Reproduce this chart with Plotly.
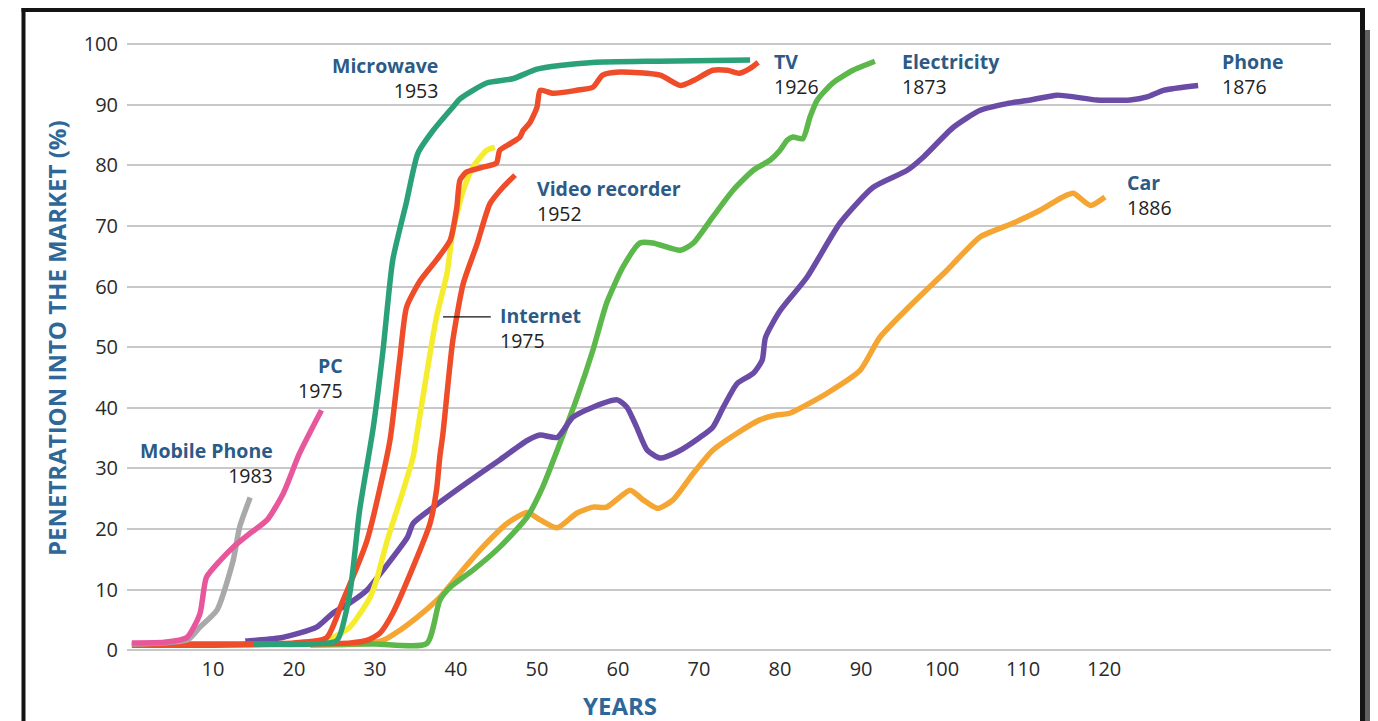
import plotly.graph_objects as go

# ---------------- data ----------------
mobile_x = [0, 4, 7, 8.4, 10.5, 12.5, 13.3, 14.6]
mobile_y = [1.0, 1.2, 1.8, 3.8, 6.6, 14.8, 20.3, 25.2]

pc_x = [0, 4, 6.8, 8.4, 9.2, 10.9, 12.5, 14.6, 16.7, 18.7, 20.7, 23.4]
pc_y = [1.2, 1.3, 2.1, 6.0, 12.0, 14.8, 17.0, 19.3, 21.5, 25.9, 32.5, 39.6]

tv_x = [0, 10, 20, 24, 26, 29, 31, 31.9, 33.1, 33.9, 35.6, 37.6, 39.3, 40.1, 40.5,
        41.3, 43.3, 45, 45.4, 46.7, 47.9, 48.3, 49.1, 50, 50.4, 52, 54.9, 56.9,
        58.1, 60.2, 65.2, 67.7, 69.3, 71.7, 73.5, 75, 76.3, 77.3]
tv_y = [1.0, 1.0, 1.2, 2.0, 8.0, 18.0, 29.0, 35.0, 48.4, 56.6, 61.0, 64.4, 67.7, 73.0,
        77.6, 78.9, 79.7, 80.4, 82.5, 83.6, 84.7, 85.8, 87.0, 89.6, 92.4, 91.9, 92.4,
        92.9, 94.9, 95.4, 94.9, 93.2, 94.0, 95.7, 95.7, 95.2, 96.0, 97.0]

vcr_x = [0, 10, 20, 27, 29, 30.6, 32.2, 34.7, 36.8, 37.6, 38, 38.4, 39.6, 40.9, 42.6,
         44.2, 45.8, 47.3]
vcr_y = [0.8, 0.8, 1.0, 1.2, 1.6, 2.8, 6.1, 13.7, 20.9, 26.4, 31.8, 35.8, 51.0, 60.5,
         67.0, 73.7, 76.4, 78.4]

microwave_x = [15, 22, 25.3, 26.9, 28.1, 29.8, 31, 32.2, 33.9, 35.3, 37.2, 39.6, 40.5,
               43.8, 47, 50, 52.8, 56.9, 65, 76.3]
microwave_y = [1.0, 1.0, 1.6, 9.4, 23.0, 36.8, 49.5, 64.4, 74.0, 82.0, 85.8, 89.6, 91.0,
               93.6, 94.3, 95.9, 96.5, 97.0, 97.2, 97.4]

internet_x = [15, 22, 24.8, 26.9, 29.4, 30.2, 31.5, 33.5, 34.7, 35.2, 36.4, 37.6, 38.9,
              39.6, 40.9, 42.1, 43.8, 44.8]
internet_y = [1.0, 1.2, 2.1, 3.8, 8.7, 11.6, 18.0, 26.4, 31.8, 35.8, 45.7, 55.0, 62.2,
              69.0, 75.9, 79.7, 82.5, 83.0]

electricity_x = [20, 30, 36.4, 38, 39.3, 42.1, 45.4, 48.8, 50.7, 52.5, 54.9, 56.9, 58.6,
                 60.6, 62.7, 64.3, 67.7, 69.3, 71.7, 74.2, 76.7, 78.8, 80, 80.9, 81.6,
                 82.8, 83.7, 84.6, 86.5, 89, 91.7]
electricity_y = [1.0, 1.0, 1.1, 8.2, 10.4, 13.2, 17.0, 22.0, 26.9, 33.0, 41.5, 49.5,
                 57.3, 63.2, 67.2, 67.2, 66.0, 67.2, 71.5, 75.9, 79.2, 80.9, 82.5, 84.2,
                 84.7, 84.4, 88.0, 90.8, 93.6, 95.7, 97.2]

phone_x = [14, 15, 18.6, 22.8, 24.8, 26.9, 29, 31, 34, 34.7, 37.2, 41.3, 45.4, 48.8,
           50.4, 52.5, 54.4, 56.9, 59.9, 61.1, 62.3, 63.6, 65.2, 67.3, 70.1, 71.7, 73,
           74.7, 76.7, 77.8, 78.2, 80, 83.3, 87.4, 91.5, 95.7, 97.7, 101.4, 104.7, 108,
           110.9, 114.2, 119.1, 123.2, 125.3, 127.3, 131.6]
phone_y = [1.5, 1.6, 2.1, 3.8, 6.1, 7.8, 9.9, 13.2, 18.6, 20.9, 23.6, 27.6, 31.4, 34.6,
           35.5, 35.1, 38.4, 40.1, 41.3, 40.1, 36.8, 33.0, 31.7, 32.7, 35.1, 36.8, 40.1,
           44.0, 45.7, 47.9, 51.6, 56.0, 61.5, 70.5, 76.4, 79.2, 81.4, 86.3, 89.1, 90.2,
           90.8, 91.6, 90.8, 90.8, 91.3, 92.4, 93.2]

car_x = [22, 28, 31, 33.1, 35.2, 38, 40.5, 43.3, 46.3, 48.8, 50.4, 52.5, 54.9, 56.9,
         58.6, 61.5, 63.1, 64.9, 66.8, 69.3, 71.7, 74.7, 77.5, 79.6, 81.2, 85.8, 89.9,
         92.3, 96.4, 100.6, 104.7, 108.8, 112.1, 114.9, 116.2, 118.3, 120.1]
car_y = [0.8, 1.0, 1.6, 3.3, 5.4, 8.7, 12.7, 17.0, 20.9, 22.7, 21.5, 20.2, 22.6, 23.6,
         23.6, 26.4, 24.8, 23.4, 24.8, 29.2, 33.0, 35.8, 38.0, 38.8, 39.1, 42.4, 46.2,
         51.6, 57.3, 62.7, 68.2, 70.5, 72.6, 74.8, 75.4, 73.4, 74.8]

x_ticks = [10, 20, 30, 40, 50, 60, 70, 80, 90, 100, 110, 120]
y_ticks = [0, 10, 20, 30, 40, 50, 60, 70, 80, 90, 100]

# name, x-data, y-data, colour (drawing order)
series = [
    ("Car", car_x, car_y, "#f5a532"),
    ("Electricity", electricity_x, electricity_y, "#5cb84a"),
    ("Phone", phone_x, phone_y, "#6a4ca6"),
    ("Internet", internet_x, internet_y, "#f6ec2e"),
    ("Video recorder", vcr_x, vcr_y, "#ef4c2a"),
    ("TV", tv_x, tv_y, "#ef4c2a"),
    ("Microwave", microwave_x, microwave_y, "#2ba178"),
    ("Mobile Phone", mobile_x, mobile_y, "#a9a9a9"),
    ("PC", pc_x, pc_y, "#e8569b"),
]

# label placement: (name, year, x, y centre of the two-line block, anchor)
labels = [
    ("Microwave", "1953", 38.0, 94.45, "right"),
    ("TV", "1926", 79.0, 95.15, "left"),
    ("Electricity", "1873", 94.8, 95.05, "left"),
    ("Phone", "1876", 134.3, 95.05, "left"),
    ("Car", "1886", 122.6, 75.15, "left"),
    ("Video recorder", "1952", 49.8, 74.15, "left"),
    ("Internet", "1975", 45.2, 53.15, "left"),
    ("PC", "1975", 26.3, 44.85, "right"),
    ("Mobile Phone", "1983", 17.65, 30.95, "right"),
]

FONT = "Open Sans"
LABEL_BLUE = "#2b5b86"
TITLE_BLUE = "#2f6898"
YEAR_COLOR = "#222222"

fig = go.Figure()
for name, xs, ys, col in series:
    fig.add_trace(go.Scatter(
        x=xs, y=ys, mode="lines", name=name,
        line=dict(color=col, width=5.5, shape="spline", smoothing=0.6),
        hoverinfo="skip", showlegend=False,
    ))

annotations = []
for name, year, lx, ly, anc in labels:
    annotations.append(dict(
        x=lx, y=ly, xref="x", yref="y",
        text="<b>%s</b><br><span style='color:%s'>%s</span>" % (name, YEAR_COLOR, year),
        showarrow=False, xanchor=anc, yanchor="middle", align=anc,
        font=dict(family=FONT, size=19.5, color=LABEL_BLUE)))

# page offset (browser body margin)
OFF = 8
W, H = 1378 - OFF, 721 - OFF
# plot area in page pixels: left 127, right 1331, top 20, bottom 655
ML, MR, MT, MB = 127 - OFF, 1378 - 1331, 20 - OFF, 721 - 655
pw, ph = 1331 - 127, 655 - 20


def px(xp):
    return (xp - 127) / pw


def py(yp):
    return (655 - yp) / ph


annotations.append(dict(x=px(56), y=py(338), xref="paper", yref="paper",
                        text="<b>PENETRATION INTO THE MARKET (%)</b>", textangle=-90,
                        showarrow=False, xanchor="center", yanchor="middle",
                        font=dict(family=FONT, size=24, color=TITLE_BLUE)))
annotations.append(dict(x=px(620), y=py(705), xref="paper", yref="paper",
                        text="<b>YEARS</b>", showarrow=False, xanchor="center",
                        yanchor="middle",
                        font=dict(family=FONT, size=24, color=TITLE_BLUE)))

shapes = [
    # Internet pointer line
    dict(type="line", xref="x", yref="y", x0=38.4, x1=44.3, y0=55.0, y1=55.0,
         line=dict(color="#111111", width=1.2)),
    # drop shadow on the right
    dict(type="rect", xref="paper", yref="paper", x0=px(1365), x1=px(1380),
         y0=py(730), y1=py(30), fillcolor="#606060", line=dict(width=0), layer="above"),
    # black frame
    dict(type="rect", xref="paper", yref="paper", x0=px(21.5), x1=px(25.5),
         y0=py(730), y1=py(7), fillcolor="#141414", line=dict(width=0), layer="above"),
    dict(type="rect", xref="paper", yref="paper", x0=px(21.5), x1=px(1365),
         y0=py(12), y1=py(7), fillcolor="#141414", line=dict(width=0), layer="above"),
    dict(type="rect", xref="paper", yref="paper", x0=px(1360), x1=px(1365),
         y0=py(730), y1=py(7), fillcolor="#141414", line=dict(width=0), layer="above"),
]

fig.update_layout(
    width=W, height=H,
    margin=dict(l=ML, r=MR, t=MT, b=MB),
    paper_bgcolor="white", plot_bgcolor="white",
    annotations=annotations, shapes=shapes,
    xaxis=dict(range=[-0.6, 148.0], tickvals=x_ticks, showgrid=False, zeroline=False,
               showline=False, ticks="",
               tickfont=dict(family=FONT, size=20, color="#2a2a2a")),
    yaxis=dict(range=[-0.8, 104.0], tickvals=y_ticks, showgrid=True, gridcolor="#c8c8c8",
               gridwidth=1.5, zeroline=False, showline=False, ticks="",
               ticklabelstandoff=8,
               tickfont=dict(family=FONT, size=20, color="#2a2a2a")),
)

fig.write_html("out.html")
